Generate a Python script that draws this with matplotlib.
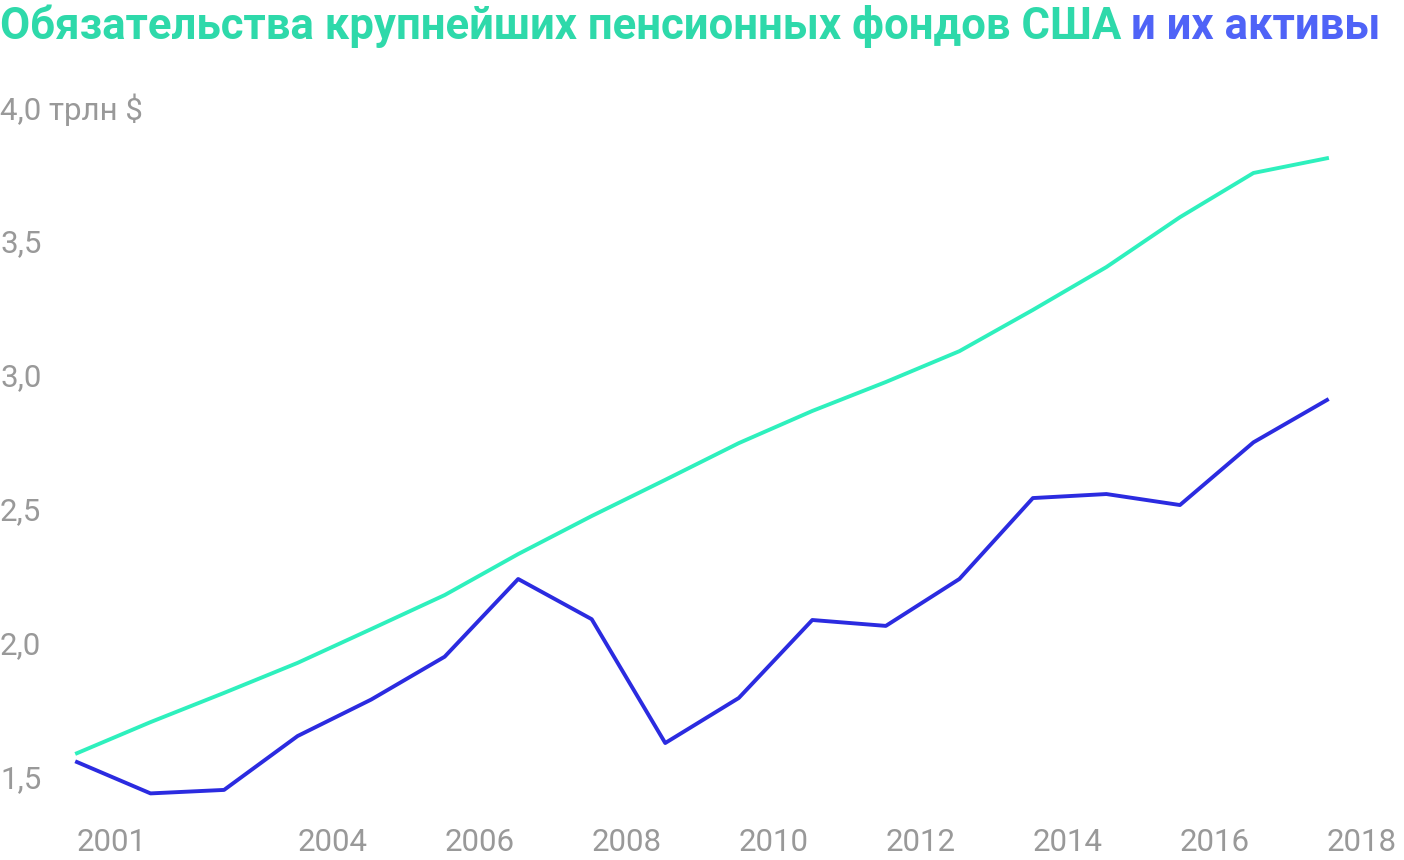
import matplotlib
matplotlib.use("Agg")
import matplotlib.pyplot as plt
import matplotlib.transforms as mtransforms

plt.rcParams['font.family'] = ['Roboto', 'DejaVu Sans']

# Data (trillion $)
years = list(range(2001, 2019))
liabilities = [1.60, 1.716, 1.825, 1.937, 2.063, 2.19, 2.343, 2.485, 2.62, 2.757,
               2.877, 2.985, 3.10, 3.254, 3.414, 3.60, 3.765, 3.82]
assets = [1.567, 1.45, 1.463, 1.664, 1.80, 1.96, 2.25, 2.10, 1.638, 1.806,
          2.097, 2.075, 2.25, 2.552, 2.567, 2.526, 2.76, 2.918]
ytick_vals = [1.5, 2.0, 2.5, 3.0, 3.5, 4.0]
ytick_labels = ['1,5', '2,0', '2,5', '3,0', '3,5', '4,0 трлн $']
xtick_years = [2001, 2004, 2006, 2008, 2010, 2012, 2014, 2016, 2018]

teal_line = '#2ef0bd'
blue_line = '#2b2be0'
teal_title = '#2ed9aa'
blue_title = '#4f63f7'
grey = '#999999'

W, H = 1404, 860
fig = plt.figure(figsize=(W / 100, H / 100), dpi=100)
ax = fig.add_axes([77 / W, 1 - 780 / H, (1327 - 77) / W, (780 - 110) / H])
ax.set_xlim(2001, 2018)
ax.set_ylim(1.5, 4.0)
ax.axis('off')

ax.plot(years, liabilities, color=teal_line, lw=2.8, clip_on=False)
ax.plot(years, assets, color=blue_line, lw=2.8, clip_on=False)

# y labels at the left edge of the figure
ytr = mtransforms.blended_transform_factory(fig.transFigure, ax.transData)
for v, lab in zip(ytick_vals, ytick_labels):
    fig.text(0.0, v, lab, transform=ytr, ha='left', va='center',
             fontsize=22.5, color=grey)

# x labels left-aligned at their points
xtr = mtransforms.blended_transform_factory(ax.transData, fig.transFigure)
for yr in xtick_years:
    fig.text(yr, 1 - 851 / H, str(yr), transform=xtr, ha='left', va='baseline',
             fontsize=22.5, color=grey)

# two-coloured title
t1 = fig.text(0.0, 1 - 39 / H, 'Обязательства крупнейших пенсионных фондов США',
              ha='left', va='baseline', fontsize=31.5, fontweight='bold', color=teal_title)
fig.canvas.draw()
bb = t1.get_window_extent(renderer=fig.canvas.get_renderer())
fig.text(bb.x1 / W + 10 / W, 1 - 39 / H, 'и их активы',
         ha='left', va='baseline', fontsize=31.5, fontweight='bold', color=blue_title)

fig.savefig('out.png', dpi=100)
